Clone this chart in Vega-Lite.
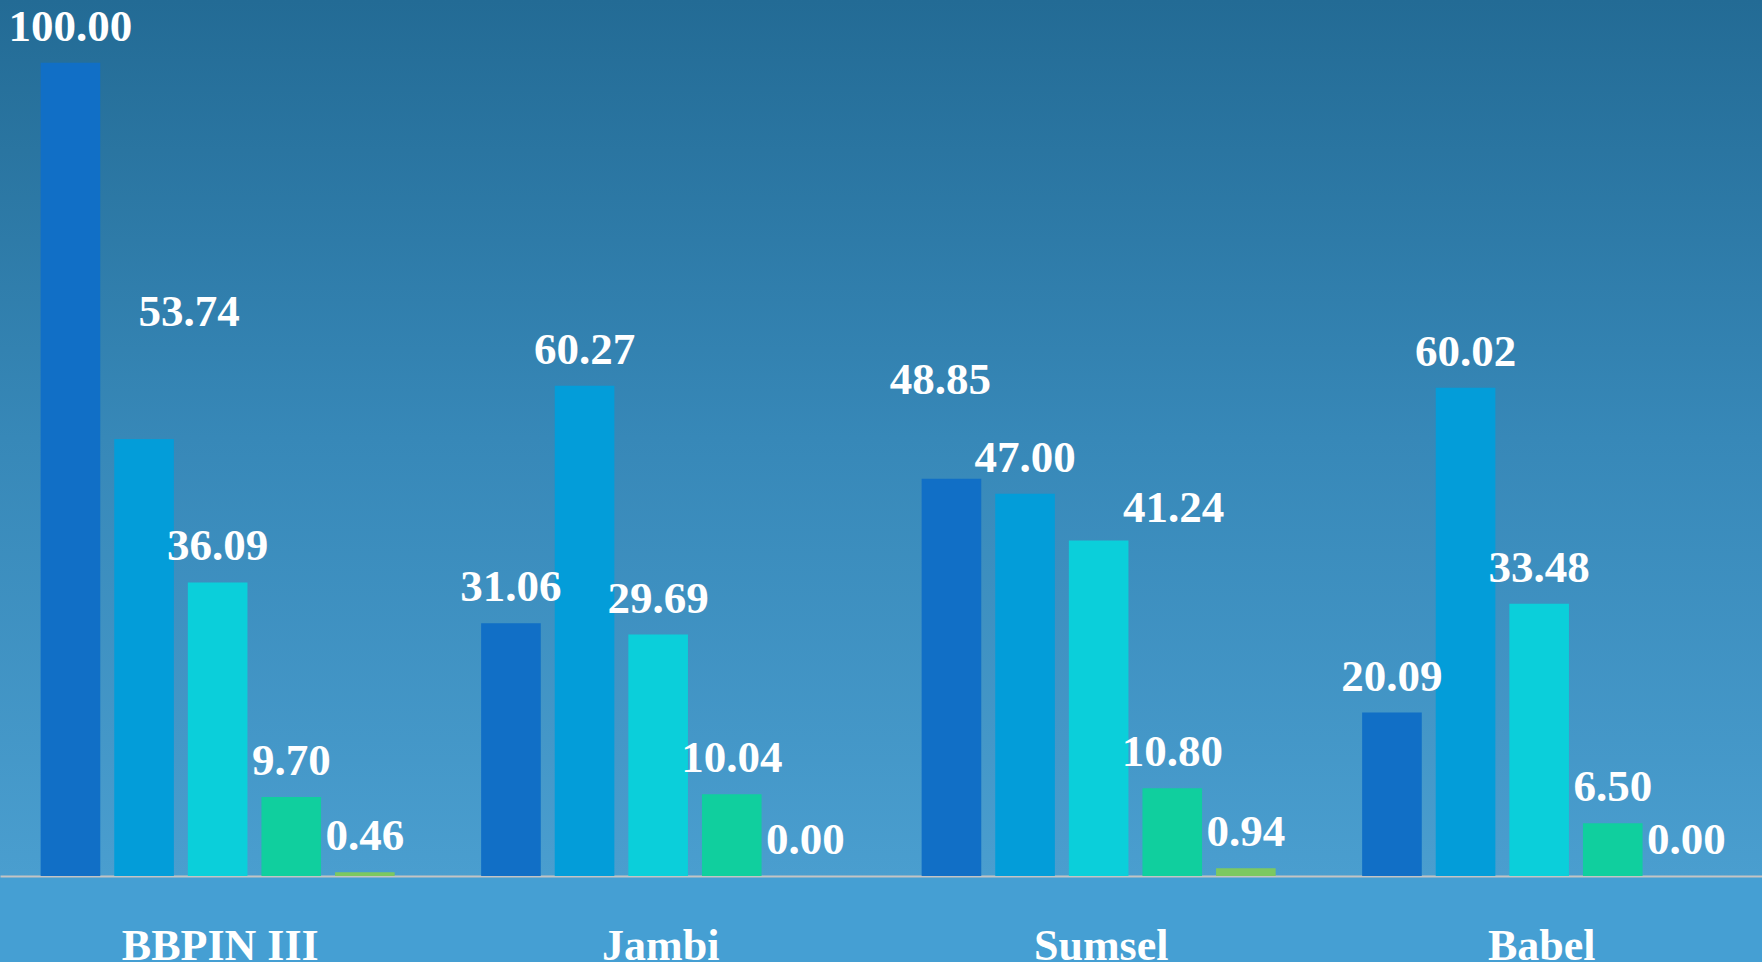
{
  "$schema": "https://vega.github.io/schema/vega-lite/v6.json",
  "width": 1762,
  "height": 876,
  "autosize": {"type": "none"},
  "padding": {"left": 0, "top": 0, "right": 0, "bottom": 86},
  "background": "#459FD3",
  "config": {
    "view": {
      "stroke": null,
      "fill": {"gradient": "linear", "x1": 0, "y1": 0, "x2": 0, "y2": 1,
        "stops": [
          {"offset": 0, "color": "#236B95"},
          {"offset": 0.5, "color": "#3788B8"},
          {"offset": 1, "color": "#4A9ECF"}
        ]}
    }
  },
  "data": {
    "values": [
      {"group": "BBPIN III", "series": "s1", "value": 100.00},
      {"group": "BBPIN III", "series": "s2", "value": 53.74},
      {"group": "BBPIN III", "series": "s3", "value": 36.09},
      {"group": "BBPIN III", "series": "s4", "value": 9.70},
      {"group": "BBPIN III", "series": "s5", "value": 0.46},
      {"group": "Jambi", "series": "s1", "value": 31.06},
      {"group": "Jambi", "series": "s2", "value": 60.27},
      {"group": "Jambi", "series": "s3", "value": 29.69},
      {"group": "Jambi", "series": "s4", "value": 10.04},
      {"group": "Jambi", "series": "s5", "value": 0.00},
      {"group": "Sumsel", "series": "s1", "value": 48.85},
      {"group": "Sumsel", "series": "s2", "value": 47.00},
      {"group": "Sumsel", "series": "s3", "value": 41.24},
      {"group": "Sumsel", "series": "s4", "value": 10.80},
      {"group": "Sumsel", "series": "s5", "value": 0.94},
      {"group": "Babel", "series": "s1", "value": 20.09},
      {"group": "Babel", "series": "s2", "value": 60.02},
      {"group": "Babel", "series": "s3", "value": 33.48},
      {"group": "Babel", "series": "s4", "value": 6.50},
      {"group": "Babel", "series": "s5", "value": 0.00}
    ]
  },
  "encoding": {
    "x": {
      "field": "group", "type": "nominal",
      "sort": ["BBPIN III", "Jambi", "Sumsel", "Babel"],
      "scale": {"paddingInner": 0, "paddingOuter": 0},
      "axis": {
        "title": null, "labelAngle": 0, "ticks": false, "tickSize": 0,
        "labelPadding": 48, "labelBaseline": "top", "labelLimit": 0,
        "labelFont": "Liberation Serif", "labelFontWeight": "bold",
        "labelFontSize": 44, "labelColor": "#FFFFFF",
        "domainColor": "#C4C4C4", "domainWidth": 2, "grid": false
      }
    },
    "xOffset": {
      "field": "series", "type": "nominal",
      "scale": {"paddingInner": 0.19, "paddingOuter": 0.5875, "align": 0.47}
    },
    "y": {
      "field": "value", "type": "quantitative",
      "scale": {"domain": [0, 107.7], "nice": false, "zero": true},
      "axis": null
    }
  },
  "layer": [
    {
      "mark": {"type": "bar"},
      "encoding": {
        "color": {
          "field": "series", "type": "nominal", "legend": null,
          "scale": {"domain": ["s1", "s2", "s3", "s4", "s5"],
                    "range": ["#116FC6", "#039DD9", "#0BCFDA", "#10CF9E", "#7CC860"]}
        }
      }
    },
    {
      "transform": [{"filter": "!((datum.group == 'BBPIN III' && datum.series == 's2') || (datum.group == 'Sumsel' && datum.series == 's1') || (datum.group == 'Sumsel' && datum.series == 's3'))"}],
      "mark": {"type": "text", "baseline": "middle", "dy": -36, "font": "Liberation Serif", "fontWeight": "bold", "fontSize": 45, "color": "#FFFFFF"},
      "encoding": {"text": {"field": "value", "type": "quantitative", "format": ".2f"}}
    },
    {
      "transform": [{"filter": "datum.group == 'BBPIN III' && datum.series == 's2'"}],
      "mark": {"type": "text", "baseline": "middle", "dx": 45, "dy": -127, "font": "Liberation Serif", "fontWeight": "bold", "fontSize": 45, "color": "#FFFFFF"},
      "encoding": {"text": {"field": "value", "type": "quantitative", "format": ".2f"}}
    },
    {
      "transform": [{"filter": "datum.group == 'Sumsel' && datum.series == 's1'"}],
      "mark": {"type": "text", "baseline": "middle", "dx": -11, "dy": -99, "font": "Liberation Serif", "fontWeight": "bold", "fontSize": 45, "color": "#FFFFFF"},
      "encoding": {"text": {"field": "value", "type": "quantitative", "format": ".2f"}}
    },
    {
      "transform": [{"filter": "datum.group == 'Sumsel' && datum.series == 's3'"}],
      "mark": {"type": "text", "baseline": "middle", "dx": 75, "dy": -33, "font": "Liberation Serif", "fontWeight": "bold", "fontSize": 45, "color": "#FFFFFF"},
      "encoding": {"text": {"field": "value", "type": "quantitative", "format": ".2f"}}
    }
  ]
}
